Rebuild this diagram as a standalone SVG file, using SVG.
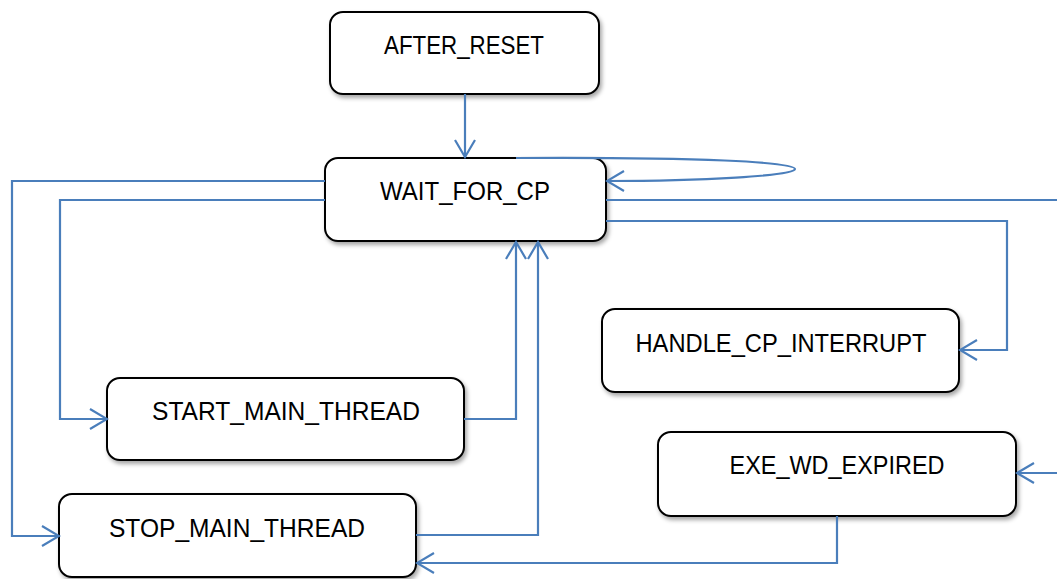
<svg xmlns="http://www.w3.org/2000/svg" width="1057" height="579" viewBox="0 0 1057 579">
<style>
.node rect{fill:#fff;stroke:#000;stroke-width:2;filter:url(#sh)}
.node text{font-family:"Liberation Sans",Arial,sans-serif;font-size:25px;fill:#000;text-anchor:middle}
.edge{fill:none;stroke:#4A7EBB;stroke-width:2.2;marker-end:url(#arr)}
</style>
<defs>
<filter id="sh" x="-10%" y="-20%" width="125%" height="150%">
<feDropShadow dx="2" dy="3" stdDeviation="2" flood-color="#000" flood-opacity="0.35"/>
</filter>
<marker id="arr" markerUnits="userSpaceOnUse" viewBox="0 0 20 22" markerWidth="20" markerHeight="22" refX="18" refY="11" orient="auto">
<path d="M1,1 L18,11 L1,21" fill="none" stroke="#4A7EBB" stroke-width="2.2"/>
</marker>
</defs>
<rect width="1057" height="579" fill="#fff"/>
<g id="n_after_reset" class="node"><rect x="330" y="12" width="269" height="82" rx="13"/><text x="464" y="54" textLength="160" lengthAdjust="spacingAndGlyphs">AFTER_RESET</text></g>
<g id="n_wait_for_cp" class="node"><rect x="325" y="158" width="281" height="83" rx="13"/><text x="465" y="200" textLength="170" lengthAdjust="spacingAndGlyphs">WAIT_FOR_CP</text></g>
<g id="n_start_main_thread" class="node"><rect x="107" y="378" width="357" height="82" rx="13"/><text x="286" y="420" textLength="268" lengthAdjust="spacingAndGlyphs">START_MAIN_THREAD</text></g>
<g id="n_stop_main_thread" class="node"><rect x="59" y="494" width="357" height="83" rx="13"/><text x="237" y="537" textLength="256" lengthAdjust="spacingAndGlyphs">STOP_MAIN_THREAD</text></g>
<g id="n_handle_cp_interrupt" class="node"><rect x="602" y="309" width="357" height="83" rx="13"/><text x="781" y="352" textLength="291" lengthAdjust="spacingAndGlyphs">HANDLE_CP_INTERRUPT</text></g>
<g id="n_exe_wd_expired" class="node"><rect x="658" y="432" width="358" height="84" rx="13"/><text x="837" y="474" textLength="215" lengthAdjust="spacingAndGlyphs">EXE_WD_EXPIRED</text></g>
<g id="connectors">
<path class="edge" d="M465,94 V157"/>
<path class="edge" d="M516,158 C700,157 795,162 795,169 C795,176 700,181 607,181"/>
<path class="edge" d="M606,200 H1064 V473 H1017"/>
<path class="edge" d="M606,221 H1007 V350 H960"/>
<path class="edge" d="M325,181 H12 V536 H59"/>
<path class="edge" d="M325,200 H60 V419 H107"/>
<path class="edge" d="M464,419 H516 V242"/>
<path class="edge" d="M416,535 H538 V242"/>
<path class="edge" d="M837,516 V563 H417"/>
</g>
</svg>
